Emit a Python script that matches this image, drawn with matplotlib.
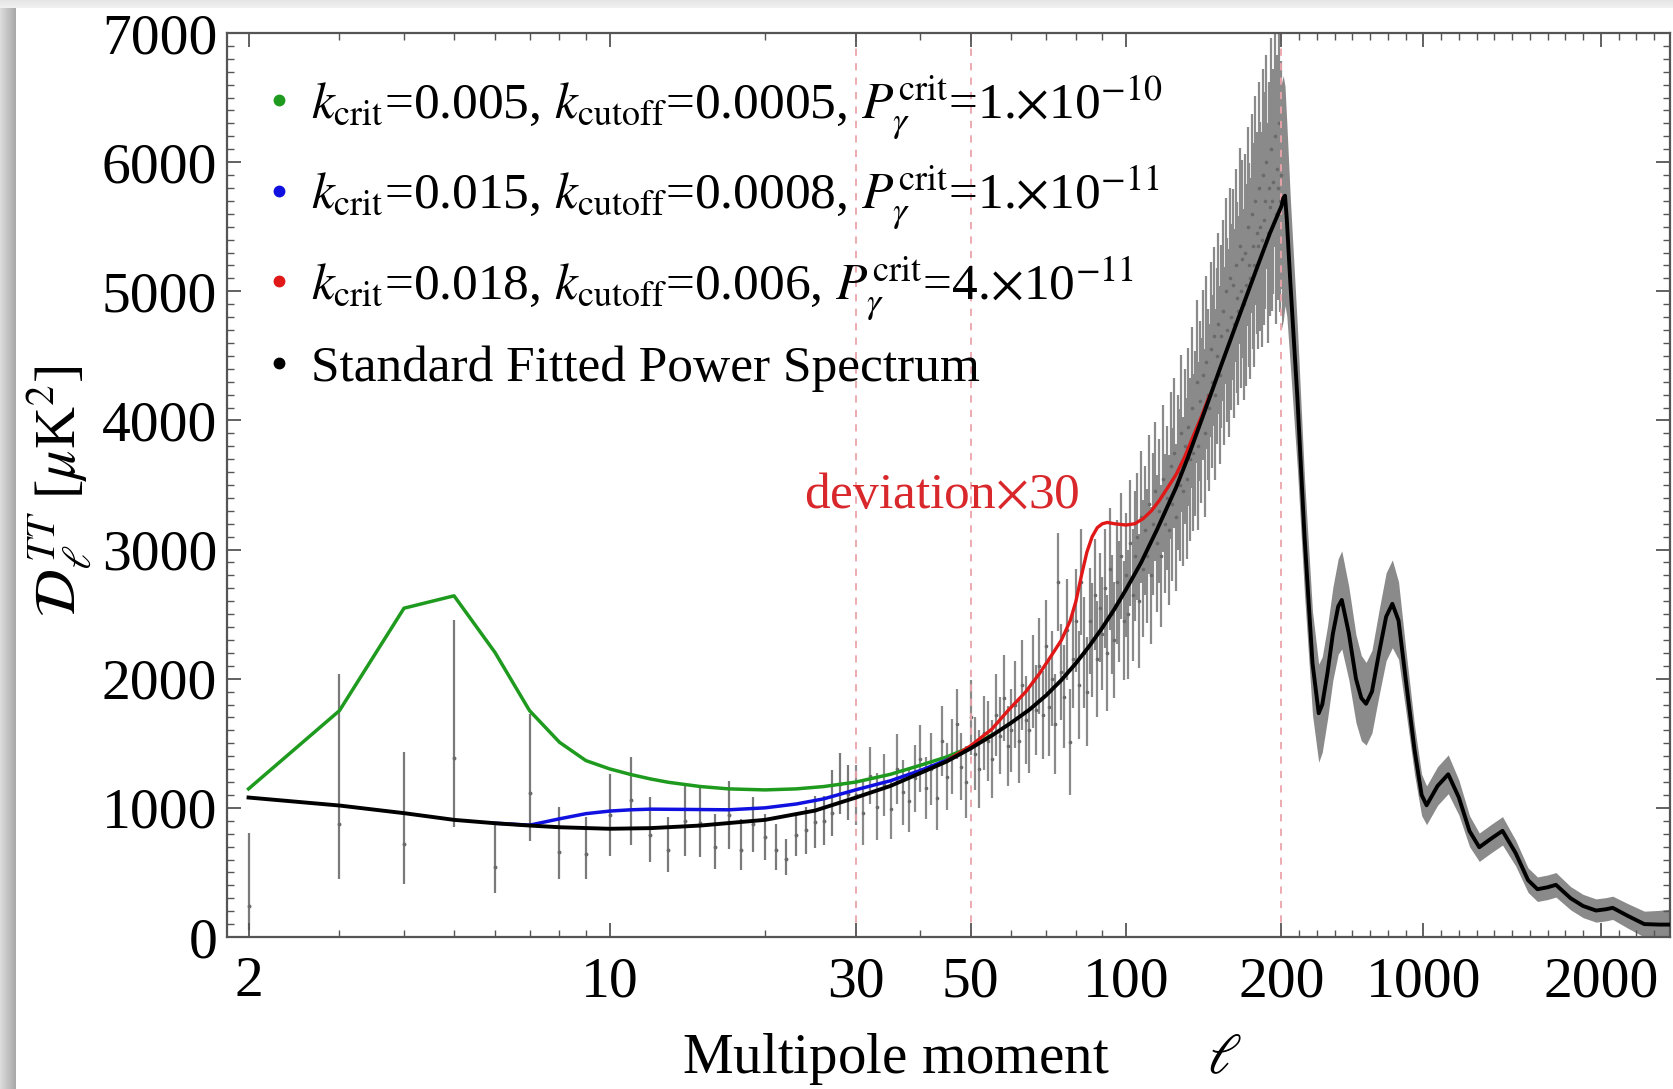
import numpy as np
import matplotlib
matplotlib.use("Agg")
import matplotlib.pyplot as plt
from matplotlib.lines import Line2D
from matplotlib.ticker import FixedLocator, FixedFormatter, NullFormatter

plt.rcParams['font.family'] = ['Liberation Serif', 'DejaVu Serif']
plt.rcParams['mathtext.fontset'] = 'stix'

# ---------------- data ----------------
# standard fitted power spectrum (black)
ell_model = [2, 3, 4, 5, 6, 7, 8, 10, 12, 15, 20, 25, 30, 35, 40, 45, 50, 55, 60, 65, 70, 75,
             80, 85, 90, 95, 100, 107, 115, 125, 132, 142, 152, 165, 180, 190, 200, 210, 220,
             230, 250, 290, 330, 375, 410, 430, 460, 490, 520, 540, 580, 620, 650, 677, 710,
             750, 790, 825, 860, 900, 950, 990, 1018, 1080, 1140, 1200, 1260, 1315, 1380, 1446,
             1520, 1590, 1643, 1700, 1747, 1830, 1900, 1973, 2030, 2067, 2150, 2245, 2330, 2390]
D_model = [1080, 1018, 959, 907, 881, 863, 850, 838, 843, 863, 907, 979, 1080, 1170, 1270, 1360,
           1460, 1560, 1660, 1760, 1870, 1990, 2120, 2255, 2395, 2540, 2690, 2900, 3160, 3480,
           3720, 4070, 4400, 4790, 5200, 5450, 5660, 5720, 5740, 5560, 5070, 4170, 3100, 2120,
           1733, 1800, 2050, 2350, 2560, 2610, 2350, 2000, 1850, 1806, 1900, 2200, 2480, 2580,
           2450, 2000, 1450, 1100, 1020, 1170, 1260, 1080, 820, 695, 760, 822, 650, 440, 370,
           385, 404, 300, 240, 205, 215, 226, 165, 100, 96, 96]

# scatter band half-width of the high-ell data (ell >= 200)
band_ell = [200, 210, 220, 230, 250, 290, 330, 375, 410, 430, 460, 490, 520, 540, 580, 620, 650,
            677, 710, 750, 790, 825, 860, 900, 950, 990, 1018, 1080, 1140, 1200, 1260, 1315,
            1380, 1446, 1520, 1590, 1643, 1700, 1747, 1830, 1900, 1973, 2030, 2067, 2150, 2245,
            2330, 2390]
band_hw = [950, 950, 850, 750, 650, 550, 450, 400, 380, 370, 360, 360, 370, 380, 360, 340, 330,
           320, 320, 330, 340, 340, 300, 240, 190, 160, 150, 150, 150, 135, 120, 110, 110, 110,
           100, 95, 95, 95, 95, 90, 90, 90, 90, 90, 95, 100, 110, 120]

# green model
ell_green = [2, 3, 4, 5, 6, 7, 8, 9, 10, 11, 12, 13, 15, 17, 20, 23, 26, 30, 35, 40, 45, 50, 55]
D_green = [1147, 1753, 2546, 2642, 2204, 1753, 1508, 1366, 1302, 1258, 1224, 1198, 1165, 1147,
           1139, 1147, 1165, 1200, 1260, 1330, 1395, 1470, 1565]
# blue model
ell_blue = [6, 7, 8, 9, 10, 11, 12, 14, 17, 20, 23, 26, 30, 35, 40, 45, 50]
D_blue = [881, 866, 915, 955, 975, 985, 990, 988, 985, 1000, 1030, 1070, 1140, 1210, 1290, 1370, 1460]
# red model (deviation x30)
ell_red = [45, 50, 55, 59, 64, 68, 72, 75, 78, 80, 82, 84, 86, 88, 90, 92, 95, 100, 104, 108,
           112, 116, 120, 125, 130, 135, 140, 145]
D_red = [1365, 1480, 1610, 1750, 1900, 2040, 2190, 2300, 2450, 2600, 2800, 2980, 3100, 3170,
         3200, 3210, 3200, 3190, 3200, 3240, 3300, 3380, 3470, 3580, 3720, 3880, 4030, 4190]

# low-ell data points (2..29) with asymmetric errors
ell_low = list(range(2, 30))
D_low = [237, 876, 722, 1387, 541, 1113, 657, 644, 941, 1057, 786, 670, 902, 880, 696, 948, 670,
         876, 773, 670, 606, 786, 825, 889, 902, 960, 1186, 1108]
err_low_minus = [185, 425, 310, 537, 201, 366, 206, 193, 310, 348, 206, 168, 271, 260, 168, 265,
                 155, 219, 180, 155, 129, 155, 180, 200, 190, 180, 230, 200]
err_low_plus = [567, 1160, 708, 1067, 335, 614, 348, 284, 322, 335, 296, 258, 284, 300, 258, 263,
                245, 206, 181, 206, 154, 168, 180, 200, 190, 330, 240, 220]

# high-ell data points (30..200)
ell_high = list(range(30, 201))
D_high = [1100, 960, 1250, 1010, 1180, 990, 1300, 1120, 1050, 1230,
          1380, 1150, 1300, 1080, 1520, 1240, 1400, 1650, 1320, 1200,
          1700, 1420, 1300, 1580, 1520, 1380, 1720, 1560, 1850, 1480,
          1600, 1800, 1520, 1950, 1680, 1600, 1980, 1760, 2100, 1720,
          2250, 1780, 2000, 1650, 2750, 2050, 1860, 2380, 1510, 2150,
          2450, 1950, 2750, 2200, 1900, 2450, 2300, 2650, 2150, 2550,
          2350, 2700, 2200, 2850, 2500, 2300, 2750, 2600, 2950, 2450,
          2800, 2500, 3050, 2650, 2950, 3100, 2600, 3250, 2850, 3150,
          2950, 3350, 2800, 3200, 3450, 3050, 3300, 2950, 3550, 3200,
          3400, 3150, 3650, 3350, 3750, 3250, 3600, 3500, 3900, 3450,
          3800, 3550, 3950, 3700, 4100, 3750, 3900, 4300, 3800, 4150,
          4000, 4350, 3900, 4450, 4200, 4100, 4550, 4300, 4650, 4200,
          4500, 4750, 4350, 4650, 4850, 4500, 5000, 4700, 4600, 5100,
          4800, 5050, 4750, 5200, 4950, 4850, 5350, 5000, 5250, 4900,
          5300, 5050, 5500, 5200, 5100, 5600, 5350, 5200, 5700, 5450,
          5350, 5800, 5500, 5400, 5900, 5550, 5700, 6000, 5450, 5800,
          5650, 6100, 5700, 5850, 6200, 5600, 5950, 5800, 6300, 5700,
          5900]
sig_high = [230, 250, 220, 260, 240, 230, 270, 250, 240, 260,
            260, 240, 280, 250, 270, 260, 290, 270, 260, 280,
            290, 280, 300, 290, 310, 300, 320, 300, 330, 310,
            320, 340, 330, 350, 340, 330, 360, 350, 370, 340,
            360, 380, 370, 390, 380, 370, 400, 390, 410, 380,
            400, 420, 410, 430, 420, 410, 440, 430, 450, 420,
            440, 460, 450, 470, 460, 450, 480, 470, 490, 460,
            480, 500, 490, 510, 500, 490, 520, 510, 530, 500,
            520, 540, 530, 550, 540, 530, 560, 550, 570, 540,
            560, 580, 570, 590, 580, 570, 600, 590, 610, 580,
            600, 620, 610, 630, 620, 610, 640, 630, 650, 620,
            640, 660, 650, 670, 660, 650, 680, 670, 690, 660,
            680, 700, 690, 710, 700, 690, 720, 710, 730, 700,
            720, 740, 730, 750, 740, 730, 760, 750, 770, 740,
            760, 780, 770, 790, 780, 770, 800, 790, 810, 780,
            800, 820, 810, 830, 820, 810, 840, 830, 850, 820,
            840, 860, 850, 870, 860, 850, 880, 870, 890, 860,
            880]

dashed_ell = [30, 50, 200]
x_major = [2, 10, 30, 50, 100, 200, 1000, 2000]
x_major_labels = ['2', '10', '30', '50', '100', '200', '1000', '2000']
x_minor = [3, 4, 5, 6, 7, 8, 9, 20, 40, 60, 70, 80, 90] + list(range(300, 1000, 100)) \
    + list(range(1100, 2000, 100)) + list(range(2100, 2400, 100))
y_major = list(range(0, 7001, 1000))
y_minor = list(range(0, 7001, 100))

legend_labels = [
    r"$k_{\rm crit}$=0.005, $k_{\rm cutoff}$=0.0005, $P_{\gamma}^{\rm crit}$=1.$\times$10$^{-10}$",
    r"$k_{\rm crit}$=0.015, $k_{\rm cutoff}$=0.0008, $P_{\gamma}^{\rm crit}$=1.$\times$10$^{-11}$",
    r"$k_{\rm crit}$=0.018, $k_{\rm cutoff}$=0.006, $P_{\gamma}^{\rm crit}$=4.$\times$10$^{-11}$",
    "Standard Fitted Power Spectrum",
]
legend_colors = ['#1e9a1e', '#1010e0', '#e01818', '#000000']

# ---------------- figure ----------------
W, H = 1673, 1089
fig = plt.figure(figsize=(W / 100, H / 100), dpi=100)

# page frame: top strip and left shadow
top = fig.add_axes([0, 1 - 8 / H, 1, 8 / H])
top.imshow(np.linspace(0.90, 0.94, 8)[:, None] * np.ones((1, 10)), cmap='gray', vmin=0, vmax=1,
           aspect='auto')
top.axis('off')
left = fig.add_axes([0, 0, 16 / W, 1 - 8 / H])
left.imshow(np.ones((10, 1)) * np.linspace(0.86, 0.66, 16)[None, :], cmap='gray', vmin=0, vmax=1,
            aspect='auto')
left.axis('off')

ax = fig.add_axes([227 / W, 1 - 937 / H, (1670 - 227) / W, (937 - 33) / H])

K = 0.1776 / 517.0
L200 = np.log10(200.0)


def fwd(x):
    x = np.asarray(x, dtype=float)
    xc = np.clip(x, 1e-6, None)
    return np.where(xc <= 200, np.log10(np.minimum(xc, 200)), L200 + (xc - 200) * K)


def inv(t):
    t = np.asarray(t, dtype=float)
    return np.where(t <= L200, 10 ** np.minimum(t, L200), 200 + (t - L200) * (1.0 / K))


ax.set_xscale('function', functions=(fwd, inv))
ax.set_xlim(1.817, 2390)
ax.set_ylim(0, 7000)

gray = '#8a8a8a'
# band for ell >= 200
Dm = dict(zip(ell_model, D_model))
bc = np.array([Dm[e] for e in band_ell], dtype=float)
hw = np.array(band_hw, dtype=float)
ax.fill_between(band_ell, bc - hw, bc + hw, color=gray, lw=0, zorder=1)

ax.errorbar(ell_high, D_high, yerr=sig_high, fmt='none', ecolor=gray, elinewidth=1.6, zorder=1.2)
ax.plot(ell_high, D_high, 'o', ms=1.6, color='#6a6a6a', zorder=1.3)
ax.errorbar(ell_low, D_low, yerr=[err_low_minus, err_low_plus], fmt='none', ecolor='#7a7a7a',
            elinewidth=1.6, zorder=1.2)
ax.plot(ell_low, D_low, 'o', ms=1.8, color='#6a6a6a', zorder=1.3)

for xv in dashed_ell:
    ax.axvline(xv, color='#eba4aa', ls=(0, (4, 4)), lw=1.3, zorder=1.5)

ax.plot(ell_green, D_green, color=legend_colors[0], lw=2.5, zorder=3)
ax.plot(ell_blue, D_blue, color=legend_colors[1], lw=2.5, zorder=3.1)
ax.plot(ell_red, D_red, color=legend_colors[2], lw=2.4, zorder=3.2)
ax.plot(ell_model, D_model, color='black', lw=2.8, zorder=4, solid_joinstyle='round')

ax.text(0.4955, 0.489, r"deviation$\times$30", transform=ax.transAxes, ha='center', va='center',
        fontsize=37, color='#d9282c', zorder=5)

handles = [Line2D([], [], marker='o', ls='', color=c, markersize=7.5) for c in legend_colors]
leg = ax.legend(handles, legend_labels, loc='upper left', bbox_to_anchor=(-0.003, 0.99),
                frameon=False, fontsize=37, handletextpad=0.12, labelspacing=0.45,
                handlelength=1.0, borderaxespad=0.2)

# ticks
ax.xaxis.set_major_locator(FixedLocator(x_major))
ax.xaxis.set_major_formatter(FixedFormatter(x_major_labels))
ax.xaxis.set_minor_locator(FixedLocator(x_minor))
ax.xaxis.set_minor_formatter(NullFormatter())
ax.yaxis.set_major_locator(FixedLocator(y_major))
ax.yaxis.set_minor_locator(FixedLocator(y_minor))
ax.tick_params(which='both', direction='in', top=True, right=True, color='#555555')
ax.tick_params(which='major', length=10, width=1.3, labelsize=41.5)
ax.tick_params(which='minor', length=5, width=1.0)
ax.tick_params(axis='x', which='major', pad=14)
ax.tick_params(axis='y', which='major', pad=7)
for s in ax.spines.values():
    s.set_color('#555555')
    s.set_linewidth(1.6)

fig.text(962 / W, 1 - 1059 / H, r"Multipole moment       $\ell$", ha='center', va='center',
         fontsize=41)
fig.text(60 / W, 1 - 491 / H, r"$\mathcal{D}_{\ell}^{\;TT}$ [$\mu$K$^2$]", rotation=90,
         ha='center', va='center', fontsize=42)

fig.savefig('out.png', dpi=100)
